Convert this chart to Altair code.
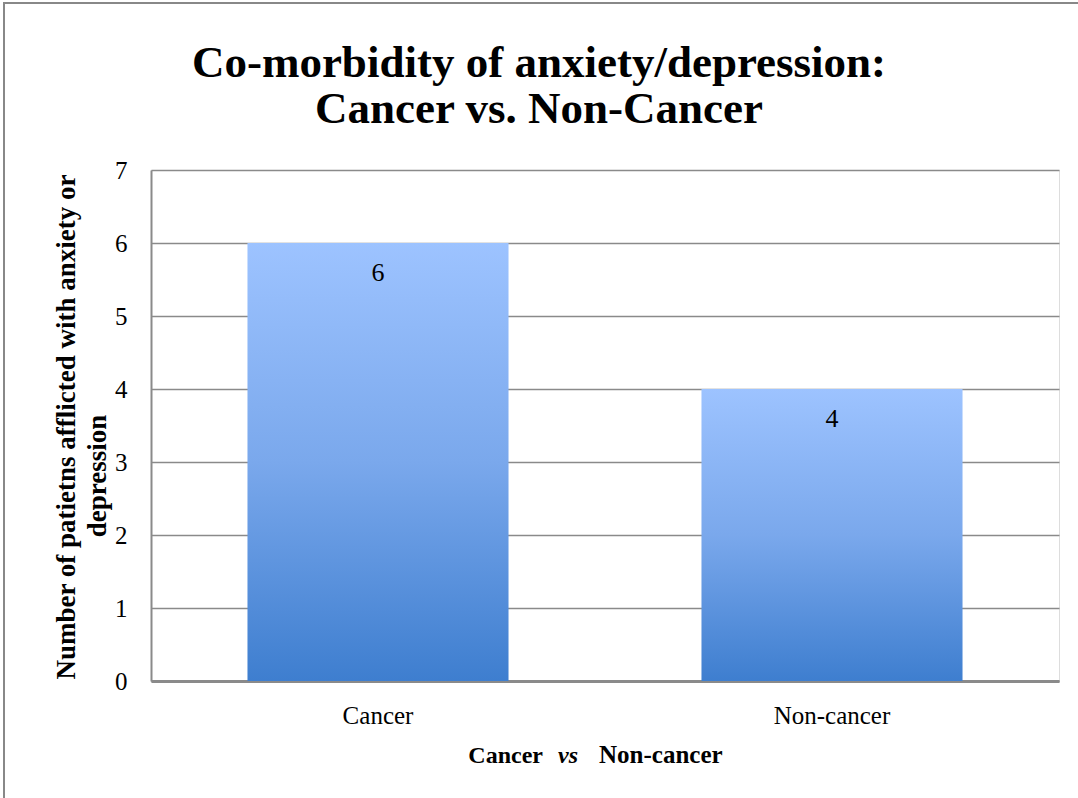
import altair as alt
import pandas as pd

categories = ["Cancer", "Non-cancer"]
values = [6, 4]
y_ticks = [0, 1, 2, 3, 4, 5, 6, 7]
title_lines = ["Co-morbidity of anxiety/depression:", "Cancer vs. Non-Cancer"]
y_title = ["Number of patietns afflicted with anxiety or", "depression"]
x_title_parts = ["Cancer", "vs", "Non-cancer"]

df = pd.DataFrame({"group": categories, "count": values})

FONT = "Liberation Serif"
GRID = "#8a8a8a"

x_scale = alt.Scale(paddingInner=0.425, paddingOuter=0.2125)
x_enc = alt.X(
    "group:N",
    sort=categories,
    scale=x_scale,
    axis=alt.Axis(
        title=None, labelAngle=0, labelFont=FONT, labelFontSize=25,
        labelColor="black", labelPadding=22, ticks=False, tickSize=0,
        domainColor=GRID, domainWidth=3, grid=False,
    ),
)
y_enc = alt.Y(
    "count:Q",
    scale=alt.Scale(domain=[0, 7], nice=False),
    axis=alt.Axis(
        values=y_ticks, format="d", title=None,
        labelFont=FONT, labelFontSize=25, labelColor="black", labelPadding=24,
        ticks=False, tickSize=0, domainColor=GRID, domainWidth=2,
        grid=True, gridColor=GRID, gridWidth=1.5,
    ),
)

gradient = alt.Gradient(
    gradient="linear",
    stops=[
        alt.GradientStop(color="#9DC3FF", offset=0),
        alt.GradientStop(color="#7AA8EC", offset=0.5),
        alt.GradientStop(color="#3E7ECF", offset=1),
    ],
    x1=0, x2=0, y1=0, y2=1,
)

bars = alt.Chart(df).mark_bar(color=gradient).encode(x=x_enc, y=y_enc)

labels = alt.Chart(df).mark_text(
    font=FONT, fontSize=26, color="black", baseline="middle", dy=30
).encode(x=alt.X("group:N", sort=categories, scale=x_scale),
         y="count:Q", text="count:Q")

one = alt.Data(values=[{"k": 1}])

title = alt.Chart(one).mark_text(
    text=title_lines, font=FONT, fontSize=45, fontWeight="bold",
    align="center", baseline="alphabetic", lineHeight=46, color="black"
).encode(x=alt.value(388), y=alt.value(-93))

yt1 = alt.Chart(one).mark_text(
    text=y_title[0], font=FONT, fontSize=27, fontWeight="bold", angle=270,
    align="center", baseline="middle", color="black"
).encode(x=alt.value(-84), y=alt.value(257))
yt2 = alt.Chart(one).mark_text(
    text=y_title[1], font=FONT, fontSize=27, fontWeight="bold", angle=270,
    align="center", baseline="middle", color="black"
).encode(x=alt.value(-53), y=alt.value(306))

xt1 = alt.Chart(one).mark_text(
    text=x_title_parts[0], font=FONT, fontSize=24, fontWeight="bold",
    align="right", baseline="alphabetic", color="black"
).encode(x=alt.value(392), y=alt.value(593))
xt2 = alt.Chart(one).mark_text(
    text=x_title_parts[1], font=FONT, fontSize=24, fontWeight="bold",
    fontStyle="italic", align="center", baseline="alphabetic", color="black"
).encode(x=alt.value(417), y=alt.value(593))
xt3 = alt.Chart(one).mark_text(
    text=x_title_parts[2], font=FONT, fontSize=25, fontWeight="bold",
    align="left", baseline="alphabetic", color="black"
).encode(x=alt.value(448), y=alt.value(593))

border = alt.Chart(one).mark_rect(
    fill="transparent", stroke="#888888", strokeWidth=2
).encode(x=alt.value(-147), x2=alt.value(960), y=alt.value(-167), y2=alt.value(660))

chart = alt.layer(
    border, bars, labels, title, yt1, yt2, xt1, xt2, xt3
).properties(
    width=908,
    height=511,
    padding={"left": 151, "top": 170, "right": 19, "bottom": 117},
    autosize=alt.AutoSizeParams(type="none"),
).configure_view(stroke=None).configure(background="white")

chart.save("out.html", embed_options={"renderer": "svg", "actions": False})
